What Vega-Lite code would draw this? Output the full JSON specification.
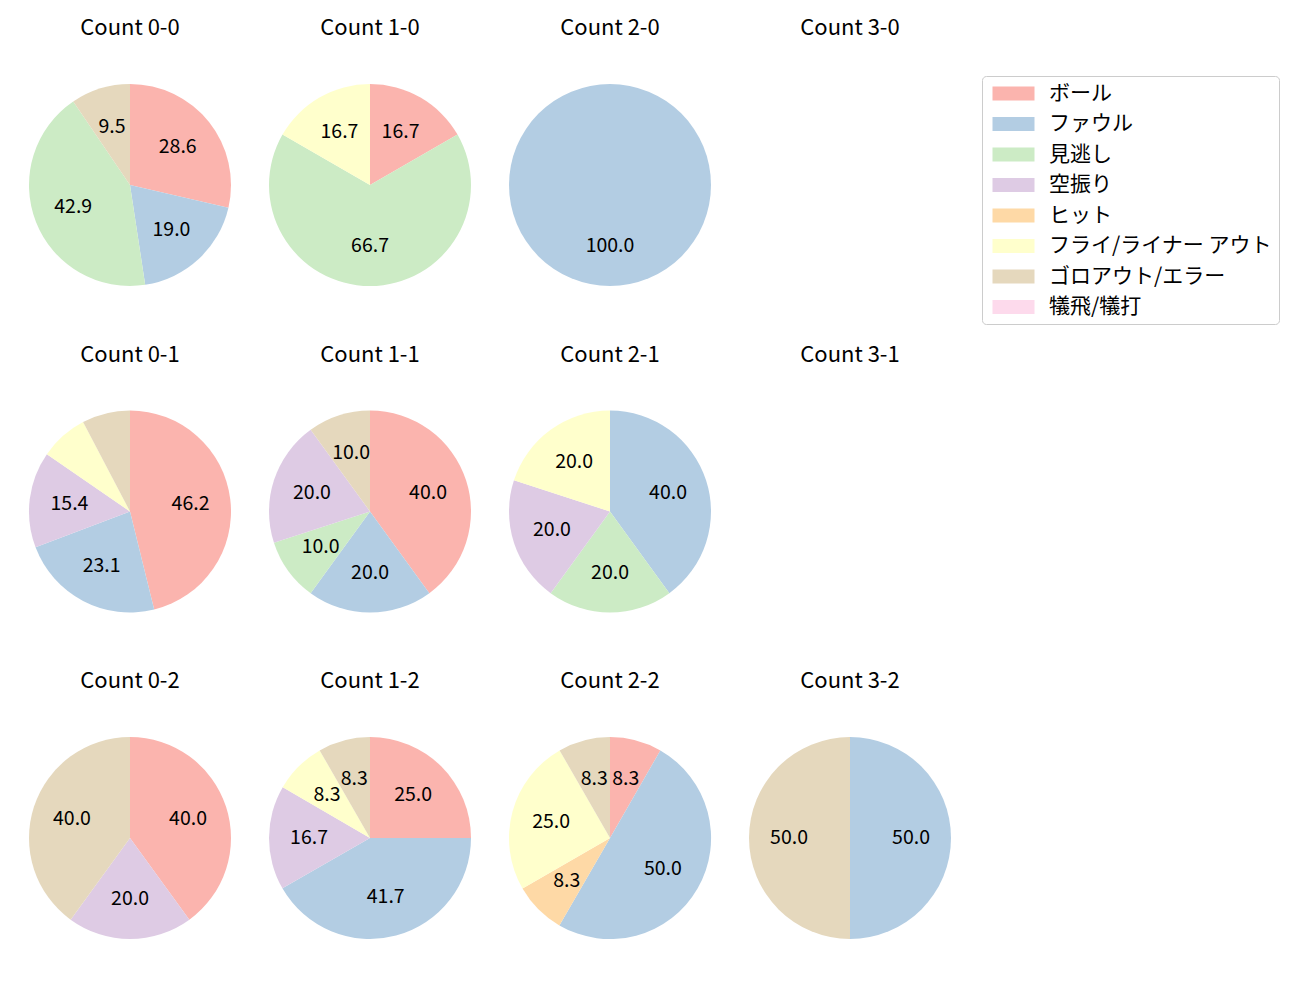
{
  "$schema": "https://vega.github.io/schema/vega-lite/v6.json",
  "padding": {"left": 20, "top": 17, "right": 5, "bottom": 5},
  "background": "white",
  "config": {
    "font": "Noto Sans CJK JP",
    "view": {"stroke": null}
  },
  "data": {
    "values": [
      {"facet": "Count 0-0", "kind": "ボール", "pct": 28.6, "label": "28.6", "order": 1},
      {"facet": "Count 0-0", "kind": "ファウル", "pct": 19.0, "label": "19.0", "order": 2},
      {"facet": "Count 0-0", "kind": "見逃し", "pct": 42.9, "label": "42.9", "order": 3},
      {"facet": "Count 0-0", "kind": "ゴロアウト/エラー", "pct": 9.5, "label": "9.5", "order": 7},
      {"facet": "Count 1-0", "kind": "ボール", "pct": 16.7, "label": "16.7", "order": 1},
      {"facet": "Count 1-0", "kind": "見逃し", "pct": 66.7, "label": "66.7", "order": 3},
      {"facet": "Count 1-0", "kind": "フライ/ライナー アウト", "pct": 16.7, "label": "16.7", "order": 6},
      {"facet": "Count 2-0", "kind": "ファウル", "pct": 100.0, "label": "100.0", "order": 2},
      {"facet": "Count 3-0", "kind": "ボール", "pct": 0, "label": "", "order": 1},
      {"facet": "Count 0-1", "kind": "ボール", "pct": 46.2, "label": "46.2", "order": 1},
      {"facet": "Count 0-1", "kind": "ファウル", "pct": 23.1, "label": "23.1", "order": 2},
      {"facet": "Count 0-1", "kind": "空振り", "pct": 15.4, "label": "15.4", "order": 4},
      {"facet": "Count 0-1", "kind": "フライ/ライナー アウト", "pct": 7.7, "label": "", "order": 6},
      {"facet": "Count 0-1", "kind": "ゴロアウト/エラー", "pct": 7.7, "label": "", "order": 7},
      {"facet": "Count 1-1", "kind": "ボール", "pct": 40.0, "label": "40.0", "order": 1},
      {"facet": "Count 1-1", "kind": "ファウル", "pct": 20.0, "label": "20.0", "order": 2},
      {"facet": "Count 1-1", "kind": "見逃し", "pct": 10.0, "label": "10.0", "order": 3},
      {"facet": "Count 1-1", "kind": "空振り", "pct": 20.0, "label": "20.0", "order": 4},
      {"facet": "Count 1-1", "kind": "ゴロアウト/エラー", "pct": 10.0, "label": "10.0", "order": 7},
      {"facet": "Count 2-1", "kind": "ファウル", "pct": 40.0, "label": "40.0", "order": 2},
      {"facet": "Count 2-1", "kind": "見逃し", "pct": 20.0, "label": "20.0", "order": 3},
      {"facet": "Count 2-1", "kind": "空振り", "pct": 20.0, "label": "20.0", "order": 4},
      {"facet": "Count 2-1", "kind": "フライ/ライナー アウト", "pct": 20.0, "label": "20.0", "order": 6},
      {"facet": "Count 3-1", "kind": "ボール", "pct": 0, "label": "", "order": 1},
      {"facet": "Count 0-2", "kind": "ボール", "pct": 40.0, "label": "40.0", "order": 1},
      {"facet": "Count 0-2", "kind": "空振り", "pct": 20.0, "label": "20.0", "order": 4},
      {"facet": "Count 0-2", "kind": "ゴロアウト/エラー", "pct": 40.0, "label": "40.0", "order": 7},
      {"facet": "Count 1-2", "kind": "ボール", "pct": 25.0, "label": "25.0", "order": 1},
      {"facet": "Count 1-2", "kind": "ファウル", "pct": 41.7, "label": "41.7", "order": 2},
      {"facet": "Count 1-2", "kind": "空振り", "pct": 16.7, "label": "16.7", "order": 4},
      {"facet": "Count 1-2", "kind": "フライ/ライナー アウト", "pct": 8.3, "label": "8.3", "order": 6},
      {"facet": "Count 1-2", "kind": "ゴロアウト/エラー", "pct": 8.3, "label": "8.3", "order": 7},
      {"facet": "Count 2-2", "kind": "ボール", "pct": 8.3, "label": "8.3", "order": 1},
      {"facet": "Count 2-2", "kind": "ファウル", "pct": 50.0, "label": "50.0", "order": 2},
      {"facet": "Count 2-2", "kind": "ヒット", "pct": 8.3, "label": "8.3", "order": 5},
      {"facet": "Count 2-2", "kind": "フライ/ライナー アウト", "pct": 25.0, "label": "25.0", "order": 6},
      {"facet": "Count 2-2", "kind": "ゴロアウト/エラー", "pct": 8.3, "label": "8.3", "order": 7},
      {"facet": "Count 3-2", "kind": "ファウル", "pct": 50.0, "label": "50.0", "order": 2},
      {"facet": "Count 3-2", "kind": "ゴロアウト/エラー", "pct": 50.0, "label": "50.0", "order": 7}
    ]
  },
  "facet": {
    "field": "facet",
    "type": "nominal",
    "sort": ["Count 0-0", "Count 1-0", "Count 2-0", "Count 3-0", "Count 0-1", "Count 1-1", "Count 2-1", "Count 3-1", "Count 0-2", "Count 1-2", "Count 2-2", "Count 3-2"],
    "header": {"title": null, "labelFontSize": 22, "labelFont": "Noto Sans CJK JP", "labelColor": "black", "labelPadding": 35}
  },
  "columns": 4,
  "spacing": {"column": 20, "row": 48.5},
  "resolve": {"scale": {"theta": "independent"}},
  "spec": {
    "width": 220,
    "height": 220,
    "layer": [
      {
        "mark": {"type": "arc", "radius": 101},
        "encoding": {
          "theta": {"field": "pct", "type": "quantitative", "stack": true},
          "order": {"field": "order", "type": "quantitative"},
          "color": {
            "field": "kind",
            "type": "nominal",
            "scale": {
              "domain": ["ボール", "ファウル", "見逃し", "空振り", "ヒット", "フライ/ライナー アウト", "ゴロアウト/エラー", "犠飛/犠打"],
              "range": ["#fbb4ae", "#b3cde3", "#ccebc5", "#decbe4", "#fed9a6", "#ffffcc", "#e5d8bd", "#fddaec"]
            },
            "legend": {
              "title": null,
              "orient": "none",
              "legendX": 962,
              "legendY": 1,
              "symbolType": "M-3,-1H3V1H-3Z",
              "symbolSize": 196,
              "symbolOffset": 14,
              "symbolStrokeWidth": 0,
              "symbolOpacity": 1,
              "labelFontSize": 21,
              "labelFont": "Noto Sans CJK JP",
              "labelColor": "black",
              "labelOffset": 25,
              "labelLimit": 400,
              "rowPadding": 8.5,
              "padding": 7,
              "strokeColor": "#cccccc",
              "fillColor": "white",
              "cornerRadius": 4
            }
          }
        }
      },
      {
        "mark": {"type": "text", "radius": 61, "fontSize": 19.5, "font": "Noto Sans CJK JP", "color": "black"},
        "encoding": {
          "theta": {"field": "pct", "type": "quantitative", "stack": true},
          "order": {"field": "order", "type": "quantitative"},
          "text": {"field": "label", "type": "nominal"}
        }
      }
    ]
  }
}
